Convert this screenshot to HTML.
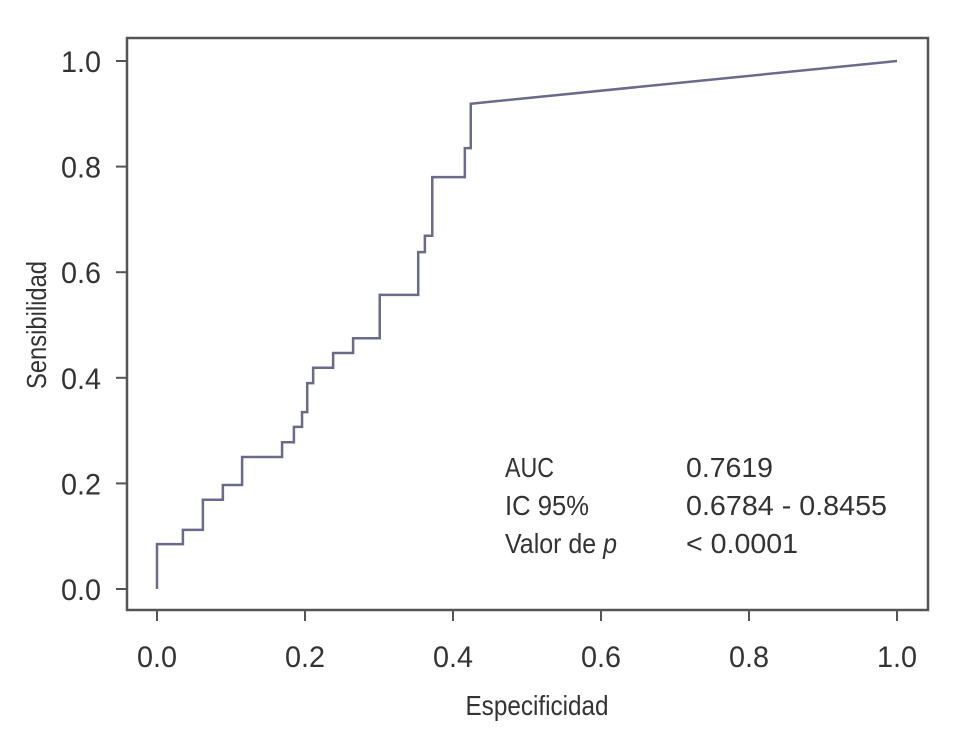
<!DOCTYPE html>
<html><head><meta charset="utf-8"><style>
html,body{margin:0;padding:0;background:#fff;}
svg text{font-family:"Liberation Sans",sans-serif;fill:#333;}
</style></head><body>
<svg width="975" height="737" xmlns="http://www.w3.org/2000/svg">
<rect x="127" y="38" width="801" height="572" fill="none" stroke="#555" stroke-width="2.5"/>
<g id="axes"></g>
<path id="roc" fill="none" stroke="#6a6a8a" stroke-width="2.5"/>
<text x="46" y="325" font-size="28" text-anchor="middle" transform="rotate(-90 46 325)" textLength="128" lengthAdjust="spacingAndGlyphs">Sensibilidad</text>
<text x="537" y="715" font-size="28" text-anchor="middle" textLength="143" lengthAdjust="spacingAndGlyphs">Especificidad</text>
<g font-size="28">
<text x="505" y="477" textLength="49" lengthAdjust="spacingAndGlyphs">AUC</text>
<text x="686" y="477" textLength="87" lengthAdjust="spacingAndGlyphs">0.7619</text>
<text x="505" y="515" textLength="84" lengthAdjust="spacingAndGlyphs">IC 95%</text>
<text x="686" y="515" textLength="201" lengthAdjust="spacingAndGlyphs">0.6784 - 0.8455</text>
<text x="505" y="553" textLength="112" lengthAdjust="spacingAndGlyphs">Valor de <tspan font-style="italic">p</tspan></text>
<text x="686" y="553" textLength="112" lengthAdjust="spacingAndGlyphs">&lt; 0.0001</text>
</g>
</svg>
<script>
const fprSteps = [0, 0.035, 0.062, 0.089, 0.115, 0.169, 0.185, 0.196, 0.203, 0.211, 0.238, 0.265, 0.301, 0.353, 0.362, 0.372, 0.416, 0.424];
const tprSteps = [0.085, 0.112, 0.169, 0.197, 0.25, 0.278, 0.307, 0.335, 0.390, 0.419, 0.447, 0.475, 0.557, 0.638, 0.669, 0.780, 0.835, 0.919];
const xTicks = [0, 0.2, 0.4, 0.6, 0.8, 1.0];
const yTicks = [0, 0.2, 0.4, 0.6, 0.8, 1.0];
const xTickLabels = ["0.0","0.2","0.4","0.6","0.8","1.0"];
const yTickLabels = ["0.0","0.2","0.4","0.6","0.8","1.0"];
const X = v => 157 + v * 740;
const Y = v => 589 - v * 528;
const NS = "http://www.w3.org/2000/svg";
const axes = document.getElementById('axes');
xTicks.forEach((t, i) => {
  const l = document.createElementNS(NS, 'line');
  l.setAttribute('x1', X(t)); l.setAttribute('x2', X(t));
  l.setAttribute('y1', 610); l.setAttribute('y2', 621);
  l.setAttribute('stroke', '#555'); l.setAttribute('stroke-width', '2');
  
  
  axes.appendChild(l);
  const tx = document.createElementNS(NS, 'text');
  tx.setAttribute('x', X(t)); tx.setAttribute('y', 667);
  tx.setAttribute('font-size', '30'); tx.setAttribute('text-anchor', 'middle');
  tx.setAttribute('textLength', '40'); tx.setAttribute('lengthAdjust', 'spacingAndGlyphs');
  tx.textContent = xTickLabels[i];
  
  
  axes.appendChild(tx);
});
yTicks.forEach((t, i) => {
  const l = document.createElementNS(NS, 'line');
  l.setAttribute('x1', 116); l.setAttribute('x2', 127);
  l.setAttribute('y1', Y(t)); l.setAttribute('y2', Y(t));
  l.setAttribute('stroke', '#555'); l.setAttribute('stroke-width', '2');
  
  
  axes.appendChild(l);
  const tx = document.createElementNS(NS, 'text');
  tx.setAttribute('x', 101); tx.setAttribute('y', Y(t) + 11);
  tx.setAttribute('font-size', '30'); tx.setAttribute('text-anchor', 'end');
  tx.setAttribute('textLength', '40'); tx.setAttribute('lengthAdjust', 'spacingAndGlyphs');
  tx.textContent = yTickLabels[i];
  
  
  axes.appendChild(tx);
});
let d = 'M' + X(0) + ' ' + Y(0);
let py = 0;
fprSteps.forEach((fx, i) => {
  d += ' L' + X(fx) + ' ' + Y(py);
  d += ' L' + X(fx) + ' ' + Y(tprSteps[i]);
  py = tprSteps[i];
});
d += ' L' + X(1) + ' ' + Y(1);
document.getElementById('roc').setAttribute('d', d);
</script>
</body></html>
